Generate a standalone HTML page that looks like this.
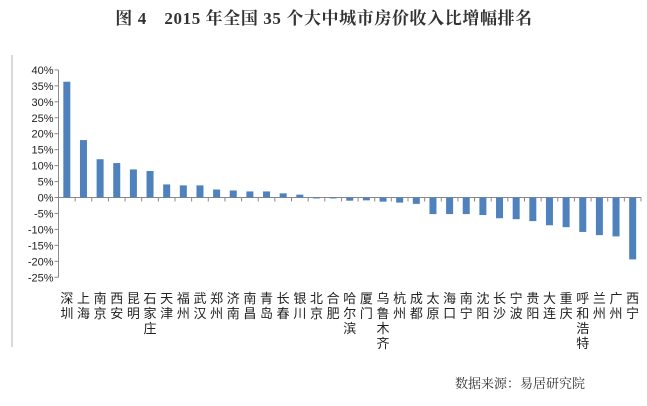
<!DOCTYPE html>
<html><head><meta charset="utf-8"><style>
body{margin:0;background:#fff;width:647px;height:401px;overflow:hidden;font-family:"Liberation Sans","Noto Sans CJK SC",sans-serif}
</style></head><body>
<svg width="647" height="401" xmlns="http://www.w3.org/2000/svg">
<text x="324" y="24" text-anchor="middle" font-family="'Liberation Serif','Noto Serif CJK SC',serif" font-weight="bold" font-size="17" letter-spacing="0.6" fill="#333">图 4　2015 年全国 35 个大中城市房价收入比增幅排名</text>
<rect x="11" y="55" width="2" height="292" fill="#d9d9d9"/>
<g id="plot"></g>
<text x="455" y="388" font-family="'Liberation Serif','Noto Serif CJK SC',serif" font-size="13" fill="#333">数据来源：易居研究院</text>
</svg>
<script>
const categories=["深圳","上海","南京","西安","昆明","石家庄","天津","福州","武汉","郑州","济南","南昌","青岛","长春","银川","北京","合肥","哈尔滨","厦门","乌鲁木齐","杭州","成都","太原","海口","南宁","沈阳","长沙","宁波","贵阳","大连","重庆","呼和浩特","兰州","广州","西宁"];
const values=[36.3,18,12,10.8,8.8,8.3,4.1,3.8,3.8,2.5,2.2,1.9,1.9,1.3,0.9,-0.3,-0.3,-1.0,-0.9,-1.3,-1.6,-2.0,-5.2,-5.2,-5.2,-5.5,-6.5,-6.8,-7.4,-8.7,-9.3,-10.8,-11.8,-12.2,-19.4];
const tickLabels=["40%","35%","30%","25%","20%","15%","10%","5%","0%","-5%","-10%","-15%","-20%","-25%"];
const tickValues=[40,35,30,25,20,15,10,5,0,-5,-10,-15,-20,-25];
const NS="http://www.w3.org/2000/svg";
const g=document.getElementById("plot");
const x0=58.5,x1=641,step=(x1-x0)/categories.length;
const y=v=>197.5-v*3.19;
function el(t,a){const e=document.createElementNS(NS,t);for(const k in a)e.setAttribute(k,a[k]);g.appendChild(e);return e;}
let ax=el("line",{x1:x0,y1:y(40),x2:x0,y2:y(-25),stroke:"#888"});


tickValues.forEach((v,i)=>{
 const t=el("line",{x1:x0-4,y1:y(v),x2:x0,y2:y(v),stroke:"#888"});
 
 
 const l=el("text",{x:x0-5,y:y(v)+4,"text-anchor":"end","font-size":"11",fill:"#222"});
 l.textContent=tickLabels[i];
 
 
});
let xa=el("line",{x1:x0,y1:y(0),x2:x1,y2:y(0),stroke:"#888"});


categories.forEach((c,i)=>{
 const tx=x0+step*(i+1);
 const t=el("line",{x1:tx,y1:y(0),x2:tx,y2:y(0)+4,stroke:"#888"});
 
 
 const v=values[i],cx=x0+step*(i+0.5);
 const b=el("rect",{x:cx-3.5,y:Math.min(y(v),y(0)),width:7,height:Math.max(Math.abs(y(v)-y(0)),0.8),fill:"#4f81bd"});
 
 
 const l=el("text",{x:cx,"text-anchor":"middle","font-size":"13",fill:"#222"});
 
 
 [...c].forEach((ch,j)=>{const s=document.createElementNS(NS,"tspan");s.setAttribute("x",cx);s.setAttribute("y",303+j*15);s.textContent=ch;l.appendChild(s);});
});
</script>
</body></html>
